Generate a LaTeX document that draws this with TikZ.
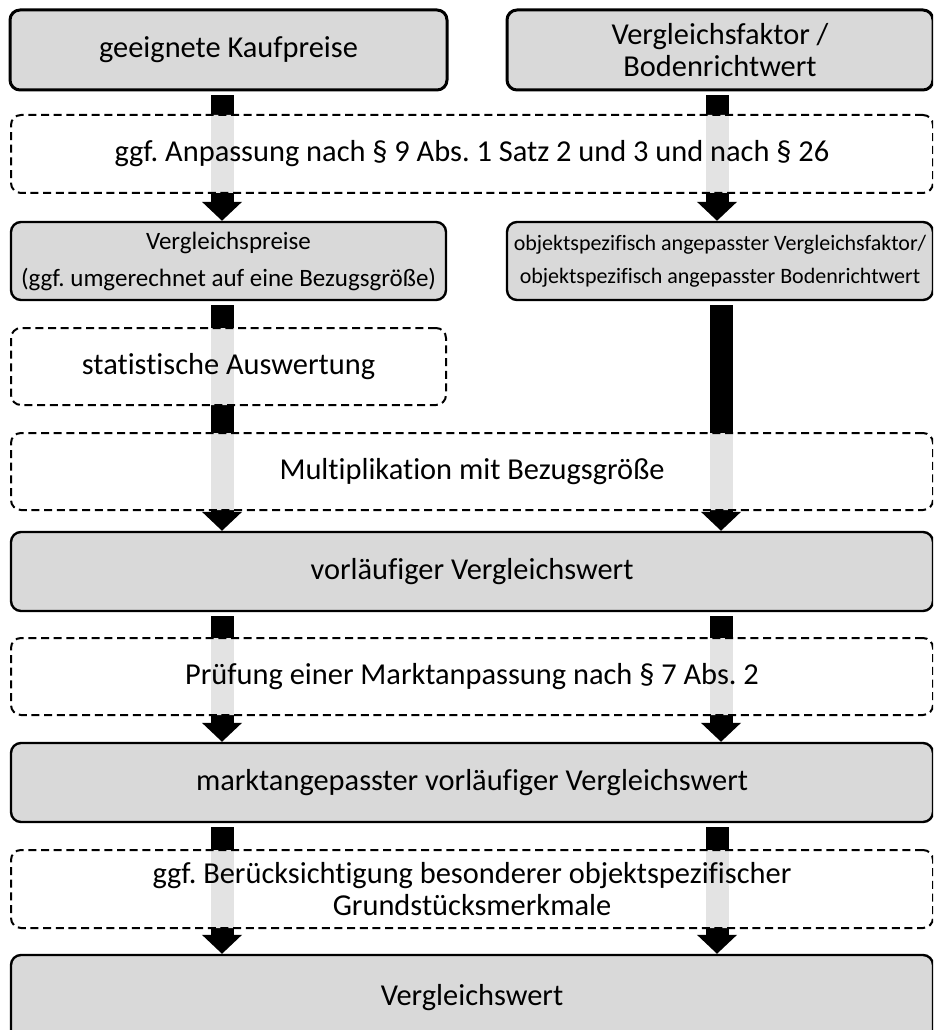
\documentclass[tikz,border=0pt]{standalone}
\usepackage{fontspec}
\setmainfont{Carlito}[Ligatures=NoCommon]
\usetikzlibrary{arrows.meta}
\frenchspacing

\tikzset{every picture/.style={line width=0.75pt}}
\tikzset{
	solidbox/.style={draw={rgb, 255:red, 0; green, 0; blue, 0 }, fill={rgb, 255:red, 217; green, 217; blue, 217 }, rounded corners=7.5pt, line width=1.8pt, inner sep=0pt, align=center, font=\fontsize{22.8}{24}\selectfont},
	dashbox/.style={draw={rgb, 255:red, 0; green, 0; blue, 0 }, fill=white, fill opacity=0.89, text opacity=1, rounded corners=7.5pt, line width=1.5pt, dash pattern=on 6pt off 3.5pt, inner sep=0pt, align=center, font=\fontsize{22.8}{24}\selectfont},
	flow/.style={line width=17.25pt, -{Triangle[width=29.25pt,length=14.25pt]}, shorten <=3pt}
}

\begin{document}
\begin{tikzpicture}[x=0.75pt,y=0.75pt,yscale=-1,xscale=1]
	\clip (0,0) rectangle (933,1030);

	%Shape: Rounded Rect [id:kauf] 
	\node [solidbox, line width=2.25pt, minimum width=327.75pt, minimum height=60pt] (kauf) at (228.5,50) {geeignete Kaufpreise};
	%Shape: Rounded Rect [id:faktor] 
	\node [solidbox, line width=2.25pt, minimum width=319.5pt, minimum height=60pt] (faktor) at (720,50) {Vergleichsfaktor /\\Bodenrichtwert};
	%Shape: Rounded Rect [id:vpreis] 
	\node [solidbox, minimum width=326.25pt, minimum height=58.5pt, font=\fontsize{18.75}{27.75}\selectfont] (vpreis) at (228.5,261) {Vergleichspreise\\(ggf. umgerechnet auf eine Bezugsgröße)};
	%Shape: Rounded Rect [id:objekt] 
	\node [solidbox, minimum width=319.5pt, minimum height=58.5pt, font=\fontsize{16.5}{24.75}\selectfont] (objekt) at (720,261) {objektspezifisch angepasster Vergleichsfaktor/\\objektspezifisch angepasster Bodenrichtwert};
	%Shape: Rounded Rect [id:vorl] 
	\node [solidbox, minimum width=691.5pt, minimum height=59.25pt] (vorl) at (472,571.5) {vorläufiger Vergleichswert};
	%Shape: Rounded Rect [id:markt] 
	\node [solidbox, minimum width=691.5pt, minimum height=59.25pt] (markt) at (472,782.5) {marktangepasster vorläufiger Vergleichswert};
	%Shape: Rounded Rect [id:vwert] 
	\node [solidbox, minimum width=691.5pt, minimum height=63.75pt] (vwert) at (472,997.5) {Vergleichswert};

	% Column anchors
	\coordinate (colL) at (222,0);
	\coordinate (colR) at (717,0);
	\coordinate (colRm) at (721,0);

	%Straight Lines [id:flows] 
	\draw [flow] (kauf.south -| colL) -- (vpreis.north -| colL);
	\draw [flow] (faktor.south -| colR) -- (objekt.north -| colR);
	\draw [flow] (vpreis.south -| colL) -- (vorl.north -| colL);
	\draw [flow] (objekt.south -| colRm) -- (vorl.north -| colRm);
	\draw [flow] (vorl.south -| colL) -- (markt.north -| colL);
	\draw [flow] (vorl.south -| colRm) -- (markt.north -| colRm);
	\draw [flow] (markt.south -| colL) -- (vwert.north -| colL);
	\draw [flow] (markt.south -| colR) -- (vwert.north -| colR);

	%Shape: Dashed Rounded Rect [id:anp] 
	\node [dashbox, minimum width=691.5pt, minimum height=58.5pt] (anp) at (472,154) {ggf. Anpassung nach § 9 Abs. 1 Satz 2 und 3 und nach § 26};
	%Shape: Dashed Rounded Rect [id:stat] 
	\node [dashbox, minimum width=326.25pt, minimum height=57.75pt] (stat) at (228.5,366.5) {statistische Auswertung};
	%Shape: Dashed Rounded Rect [id:mult] 
	\node [dashbox, minimum width=691.5pt, minimum height=57.75pt] (mult) at (472,471.5) {Multiplikation mit Bezugsgröße};
	%Shape: Dashed Rounded Rect [id:pruef] 
	\node [dashbox, minimum width=691.5pt, minimum height=57.75pt] (pruef) at (472,676.5) {Prüfung einer Marktanpassung nach § 7 Abs. 2};
	%Shape: Dashed Rounded Rect [id:berueck] 
	\node [dashbox, minimum width=691.5pt, minimum height=58.5pt] (berueck) at (472,889) {ggf. Berücksichtigung besonderer objektspezifischer\\Grundstücksmerkmale};

\end{tikzpicture}
\end{document}
